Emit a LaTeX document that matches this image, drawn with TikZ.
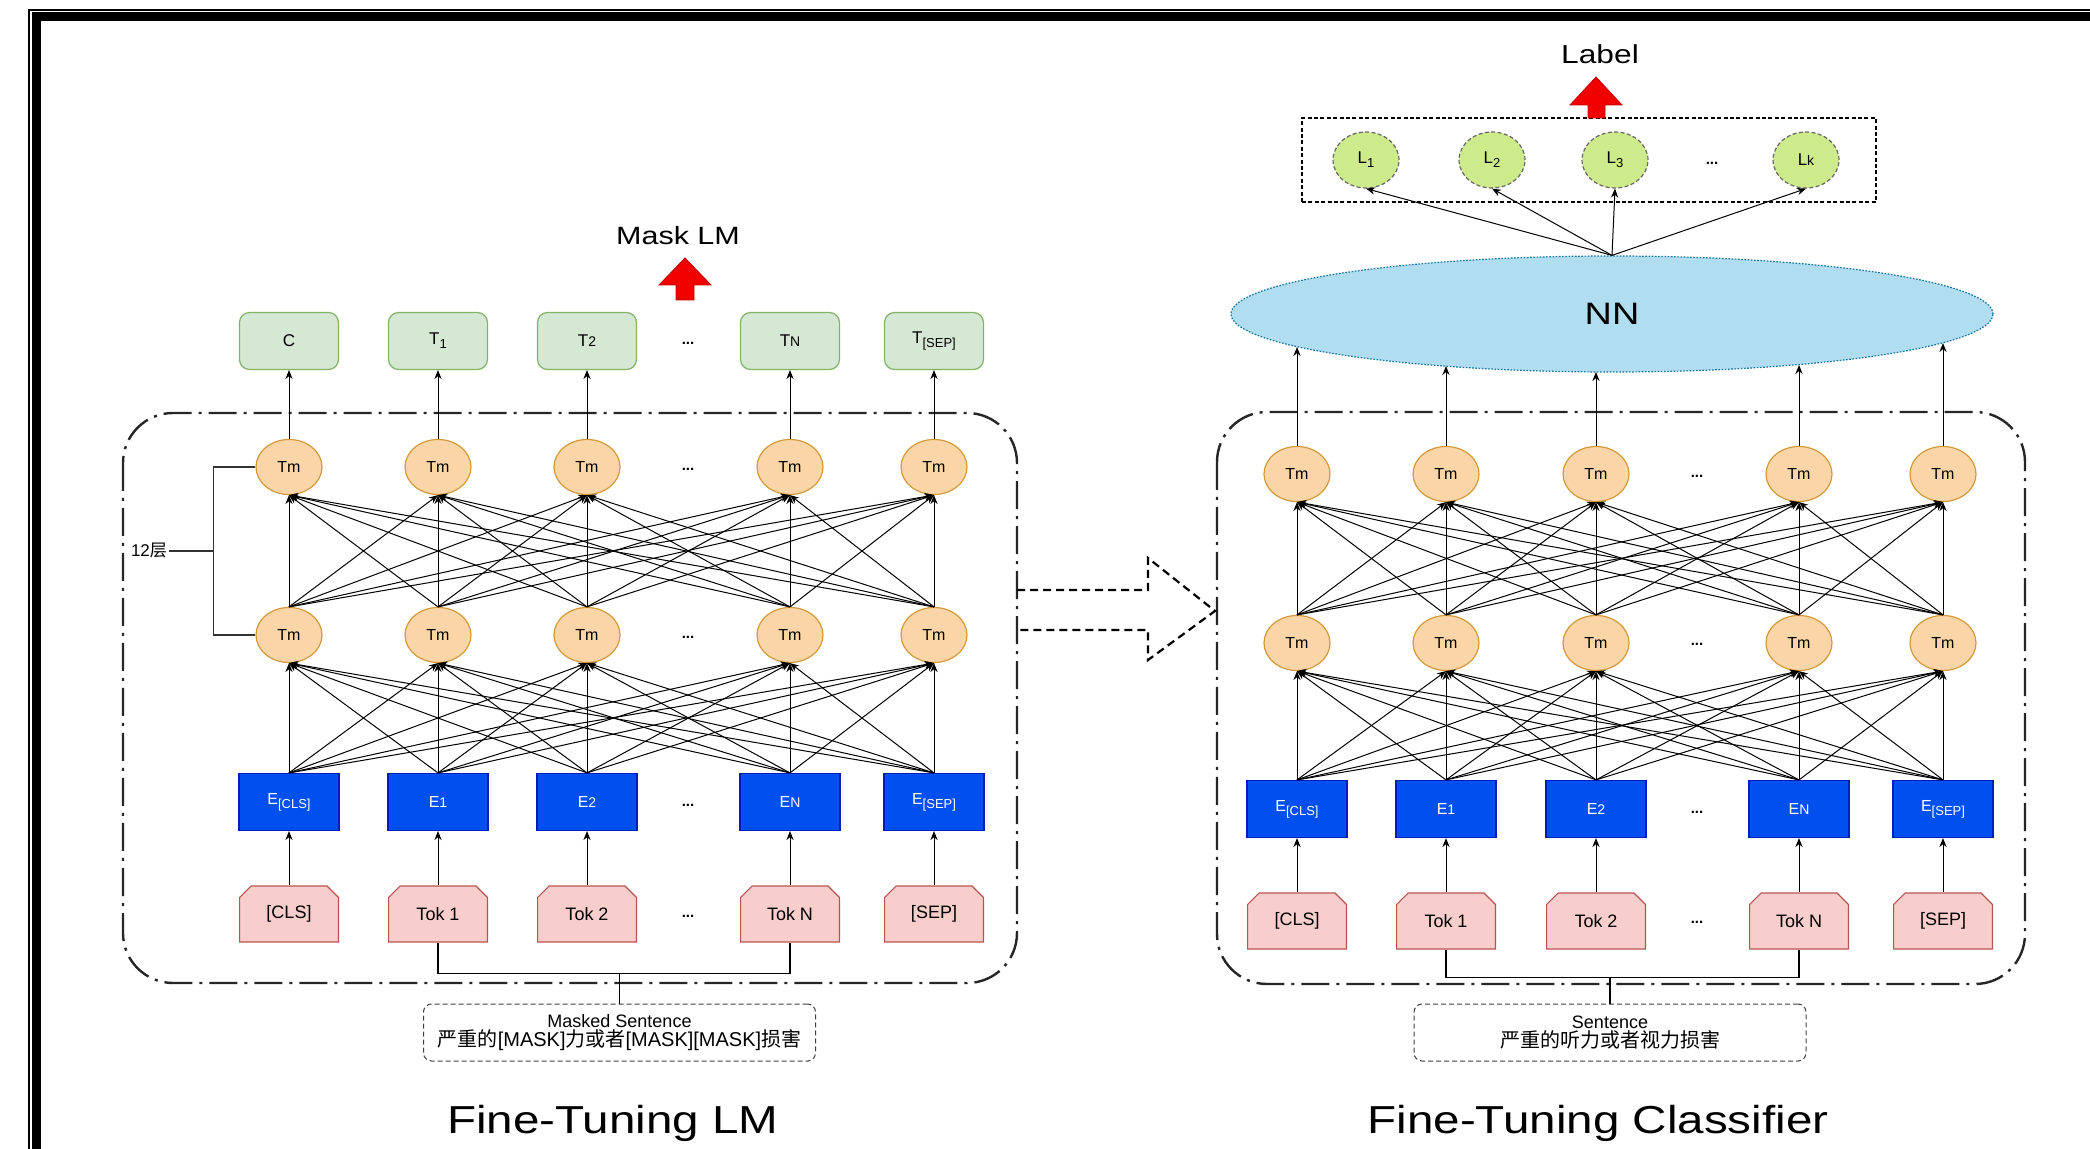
\documentclass[tikz,border=0pt]{standalone}
\usepackage{fontspec}
\setmainfont{Liberation Sans}
\newfontfamily\cjk{Noto Sans CJK SC}
\newfontfamily\widefont{Liberation Sans}[FakeStretch=1.22]
\usetikzlibrary{arrows.meta,shapes.geometric}
\definecolor{tfill}{HTML}{D5E8D4}
\definecolor{tdraw}{HTML}{82B366}
\definecolor{tmfill}{HTML}{F9D5A7}
\definecolor{tmdraw}{HTML}{D49A3A}
\definecolor{efill}{HTML}{0050EF}
\definecolor{edraw}{HTML}{001DBC}
\definecolor{kfill}{HTML}{F8CECC}
\definecolor{kdraw}{HTML}{B85450}
\definecolor{lfill}{HTML}{CDEB8B}
\definecolor{nnfill}{HTML}{B1DDF0}
\definecolor{nndraw}{HTML}{10739E}
\definecolor{redf}{HTML}{F20000}
\definecolor{redd}{HTML}{C00000}
\newcommand{\lsub}[1]{\raisebox{-0.45ex}{\fontsize{6.5}{7}\selectfont #1}}
\newcommand{\ssub}[1]{{\fontsize{7}{8}\selectfont #1}}
\tikzset{
  arr/.style={-{Stealth[length=4.5pt,width=3.6pt]}, line width=0.5pt, black},
  tbox/.style={rectangle, draw=tdraw, fill=tfill, rounded corners=5pt, minimum width=49.5pt, minimum height=28.5pt, inner sep=0pt, line width=0.6pt, font=\fontsize{8.5}{10}\selectfont},
  tmnode/.style={ellipse, draw=tmdraw, fill=tmfill, minimum width=33pt, minimum height=27.5pt, inner sep=0pt, line width=0.6pt, font=\fontsize{8}{9}\selectfont},
  ebox/.style={rectangle, draw=edraw, fill=efill, text=white, minimum width=50pt, minimum height=28.5pt, inner sep=0pt, line width=0.6pt, font=\fontsize{8}{9}\selectfont},
  tokbox/.style={rectangle, minimum width=50pt, minimum height=28.5pt, inner sep=0pt, font=\fontsize{9}{10}\selectfont,
    path picture={\filldraw[draw=kdraw, fill=kfill, line width=0.6pt]
      ([xshift=0.3pt,yshift=0.3pt]path picture bounding box.south west) --
      ([xshift=0.3pt,yshift=-6pt]path picture bounding box.north west) --
      ([xshift=6pt,yshift=-0.3pt]path picture bounding box.north west) --
      ([xshift=-6pt,yshift=-0.3pt]path picture bounding box.north east) --
      ([xshift=-0.3pt,yshift=-6pt]path picture bounding box.north east) --
      ([xshift=-0.3pt,yshift=0.3pt]path picture bounding box.south east) -- cycle;}},
  dotsnode/.style={font=\fontsize{7.5}{8}\selectfont\bfseries, inner sep=0pt},
  panel/.style={draw=black!85, line width=1.2pt, rounded corners=25pt, dash pattern=on 14pt off 3.5pt on 1.5pt off 3.5pt},
  sentbox/.style={rectangle, draw=black!75, line width=0.5pt, dash pattern=on 2.5pt off 1.5pt, rounded corners=4pt, minimum width=196pt, minimum height=28.5pt, inner sep=0pt, align=center, font=\fontsize{9}{10}\selectfont},
  lnode/.style={ellipse, draw=black!60, fill=lfill, dash pattern=on 2pt off 1.2pt, line width=0.6pt, minimum width=33pt, minimum height=28pt, inner sep=0pt, font=\fontsize{8.5}{10}\selectfont},
  bracket/.style={draw=black!80, line width=0.9pt},
  redarrow/.style={fill=redf, draw=redd, line width=0.4pt},
  title/.style={font=\widefont\fontsize{19.5}{22}\selectfont, inner sep=0pt},
  conn/.style={line width=0.55pt, black},
}
\begin{document}
\begin{tikzpicture}[x=0.5pt,y=-0.5pt]
\useasboundingbox (0,0) rectangle (2090,1149);
\fill[white] (0,0) rectangle (2090,1149);
% frame
\draw[line width=1pt] (29,1160) -- (29,10) -- (2100,10);
\draw[line width=4.5pt] (36.5,1160) -- (36.5,16.5) -- (2100,16.5);
\fill[black] (36,16) rectangle (105,21);
\fill[black] (2043,16) rectangle (2100,21);

% panels
\draw[panel] (123,413) rectangle (1017,983);
\draw[panel] (1217,412) rectangle (2025,984);

% transfer arrow (dashed block arrow)
\draw[line width=1.1pt, dash pattern=on 4pt off 2.5pt] (1017,590) -- (1148,590) -- (1148,558) -- (1215,611) -- (1148,660) -- (1148,630) -- (1017,630);

% ---------------- left panel ----------------
\foreach \i/\x/\tl/\el/\kl in {1/289/C/E\lsub{[CLS]}/[CLS], 2/438/T\lsub{1}/E\ssub{1}/Tok 1, 3/587/T\ssub{2}/E\ssub{2}/Tok 2, 4/790/T\ssub{N}/E\ssub{N}/Tok N, 5/934/T\lsub{[SEP]}/E\lsub{[SEP]}/[SEP]} {
  \node[tbox] (tL\i) at (\x,341) {\tl};
  \node[tmnode] (aL\i) at (\x,467) {Tm};
  \node[tmnode] (bL\i) at (\x,635) {Tm};
  \node[ebox] (eL\i) at (\x,802) {\el};
  \node[tokbox] (kL\i) at (\x,914) {\kl};
  \draw[arr] (aL\i.north) -- (tL\i.south);
  \draw[arr] (kL\i.north) -- (eL\i.south);
}
\foreach \y/\n in {343/1,469/2,637/3,805/4,916/5}
  \node[dotsnode] (dL\n) at (688,\y) {...};
\foreach \i in {1,...,5}
  \foreach \j in {1,...,5} {
    \draw[arr] (eL\i.north) -- (bL\j.south);
    \draw[arr] (bL\i.north) -- (aL\j.south);
  }

% 12 layers bracket
\node[font=\fontsize{8.5}{10}\selectfont, inner sep=0pt] (lay) at (149,551) {12{\cjk 层}};
\coordinate (brk) at (214,551);
\draw[bracket] (aL1.west) -- ++(-42,0) |- (bL1.west);
\draw[bracket] (lay.east) ++(2,0) -- (brk);

% mask LM
\node[font=\widefont\fontsize{12.5}{14}\selectfont, inner sep=0pt] (masklm) at (678,236) {Mask LM};
\filldraw[redarrow] (685,258) -- (711,285) -- (694,285) -- (694,300) -- (676,300) -- (676,285) -- (659,285) -- cycle;

% sentence
\node[sentbox] (sentL) at (619.5,1032.5) {Masked Sentence\\[-0.5pt]{\fontsize{10}{10}\selectfont{\cjk 严重的}[MASK]{\cjk 力或者}[MASK][MASK]{\cjk 损害}}};
\draw[conn] (kL2.south) -- ++(0,31) -| (kL4.south);
\draw[conn] (sentL.north) -- ++(0,-30);

\node[title] (titL) at (613,1123) {Fine-Tuning LM};

% ---------------- right panel ----------------
\node[ellipse, draw=nndraw, fill=nnfill, dash pattern=on 0.8pt off 0.8pt, line width=0.6pt, minimum width=381pt, minimum height=58pt, inner sep=0pt, font=\widefont\fontsize{15.5}{17}\selectfont] (nn) at (1612,314) {NN};

\foreach \i/\x/\el/\kl/\ye in {1/1297/E\lsub{[CLS]}/[CLS]/347, 2/1446/E\ssub{1}/Tok 1/366, 3/1596/E\ssub{2}/Tok 2/372, 4/1799/E\ssub{N}/Tok N/365, 5/1943/E\lsub{[SEP]}/[SEP]/343} {
  \node[tmnode] (aR\i) at (\x,474) {Tm};
  \node[tmnode] (bR\i) at (\x,643) {Tm};
  \node[ebox] (eR\i) at (\x,809) {\el};
  \node[tokbox] (kR\i) at (\x,921) {\kl};
  \coordinate (nR\i) at (\x,\ye);
  \draw[arr] (aR\i.north) -- (nR\i);
  \draw[arr] (kR\i.north) -- (eR\i.south);
}
\foreach \y/\n in {476/1,644/2,812/3,922/4}
  \node[dotsnode] (dR\n) at (1697,\y) {...};
\foreach \i in {1,...,5}
  \foreach \j in {1,...,5} {
    \draw[arr] (eR\i.north) -- (bR\j.south);
    \draw[arr] (bR\i.north) -- (aR\j.south);
  }

% labels
\node[rectangle, draw=black, line width=0.6pt, dash pattern=on 2pt off 1.2pt, minimum width=287pt, minimum height=42pt, inner sep=0pt] (lbox) at (1589,160) {};
\node[lnode] (L1) at (1366,160) {L\lsub{1}};
\node[lnode] (L2) at (1492,160) {L\lsub{2}};
\node[lnode] (L3) at (1615,160) {L\lsub{3}};
\node[lnode] (Lk) at (1806,160) {L\ssub{k}};
\node[dotsnode] (dLab) at (1712,163) {...};
\foreach \t in {L1,L2,L3,Lk}
  \draw[arr] (nn.north) -- (\t.south);

\node[font=\widefont\fontsize{13}{15}\selectfont, inner sep=0pt] (label) at (1600,54) {Label};
\filldraw[redarrow] (1596,77) -- (1622,105) -- (1605,105) -- (1605,118) -- (1588,118) -- (1588,105) -- (1570,105) -- cycle;

\node[sentbox] (sentR) at (1610,1032.5) {Sentence\\[-0.5pt]{\fontsize{10}{10}\selectfont\cjk 严重的听力或者视力损害}};
\draw[conn] (kR2.south) -- ++(0,28) -| (kR4.south);
\draw[conn] (sentR.north) -- ++(0,-27);

\node[title] (titR) at (1598,1123) {Fine-Tuning Classifier};
\end{tikzpicture}
\end{document}
